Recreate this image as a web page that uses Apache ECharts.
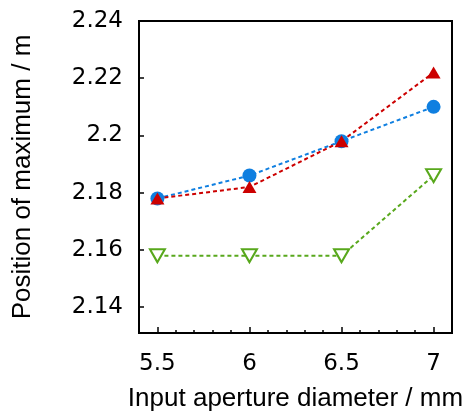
<!DOCTYPE html>
<html>
<head>
<meta charset="utf-8">
<script src="https://cdn.jsdelivr.net/npm/echarts@6/dist/echarts.min.js"></script>
<style>html,body{margin:0;padding:0;background:#fff}#c{width:470px;height:417px}</style>
</head>
<body>
<div id="c"></div>
<script>
var xValues = [5.5, 6, 6.5, 7];
var blueCircles = [2.178, 2.186, 2.198, 2.210];
var redTriangles = [2.178, 2.182, 2.198, 2.222];
var greenTriangles = [2.158, 2.158, 2.158, 2.186];
var xTickLabels = [5.5, 6, 6.5, 7];
var xMinorTicks = [5.5, 5.6, 5.7, 5.8, 5.9, 6, 6.1, 6.2, 6.3, 6.4, 6.5, 6.6, 6.7, 6.8, 6.9, 7];
var yTickLabels = [2.14, 2.16, 2.18, 2.2, 2.22, 2.24];

function pairs(ys) { return xValues.map(function (x, i) { return [x, ys[i]]; }); }

var titleFont = 'Liberation Sans, Arial, Helvetica, sans-serif';
var tickFont = 'DejaVu Sans, sans-serif';
var chart = echarts.init(document.getElementById('c'), null, {renderer: 'canvas'});
chart.setOption({
  animation: false,
  backgroundColor: '#fff',
  grid: {left: 139, right: 18, top: 21, bottom: 84, show: true, borderColor: '#000', borderWidth: 2},
  xAxis: [{
    type: 'value', min: 5.4, max: 7.1,
    name: 'Input aperture diameter / mm', nameLocation: 'middle', nameGap: 53,
    nameTextStyle: {fontFamily: titleFont, fontSize: 26, color: '#000'},
    axisLine: {show: true, lineStyle: {color: '#000', width: 2}},
    axisTick: {show: true, inside: true, length: 3, customValues: xMinorTicks, lineStyle: {color: '#000', width: 1.5}},
    axisLabel: {customValues: xTickLabels, margin: 20, fontFamily: tickFont, fontSize: 23, color: '#000'},
    splitLine: {show: false}
  }, {
    type: 'value', min: 5.4, max: 7.1, position: 'bottom',
    axisLine: {show: false},
    axisTick: {show: true, inside: true, length: 6, customValues: xTickLabels, lineStyle: {color: '#000', width: 1.5}},
    axisLabel: {show: false},
    splitLine: {show: false}
  }],
  yAxis: {
    type: 'value', min: 2.131, max: 2.24,
    name: 'Position of maximum / m', nameLocation: 'middle', nameGap: 103,
    nameTextStyle: {fontFamily: titleFont, fontSize: 26, color: '#000'},
    axisLine: {show: true, lineStyle: {color: '#000', width: 2}},
    axisTick: {show: true, inside: true, length: 5, customValues: yTickLabels, lineStyle: {color: '#000', width: 1.5}},
    axisLabel: {customValues: yTickLabels, margin: 16, fontFamily: tickFont, fontSize: 23, color: '#000'},
    splitLine: {show: false}
  },
  series: [{
    type: 'line', data: pairs(greenTriangles),
    symbol: 'emptyTriangle', symbolRotate: 180, symbolSize: [15, 13],
    itemStyle: {color: '#58a81c', borderWidth: 2},
    lineStyle: {color: '#58a81c', width: 2, type: [4, 3]}
  }, {
    type: 'line', data: pairs(blueCircles),
    symbol: 'circle', symbolSize: 14,
    itemStyle: {color: '#0f7fe0'},
    lineStyle: {color: '#0f7fe0', width: 2, type: [4, 3]}
  }, {
    type: 'line', data: pairs(redTriangles),
    symbol: 'triangle', symbolSize: [14, 12],
    itemStyle: {color: '#cc0000'},
    lineStyle: {color: '#cc0000', width: 2, type: [4, 3]}
  }]
});
</script>
</body>
</html>
